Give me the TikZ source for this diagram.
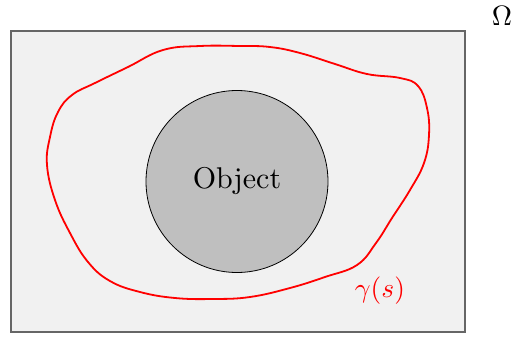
\documentclass[tikz,border=0pt]{standalone}
\usepackage{fontspec}
\begin{document}
\begin{tikzpicture}[x=1pt,y=-1pt,
  domainbox/.style={draw=black!60, line width=1.2pt, fill=black!5.5},
  objcircle/.style={circle, draw=black, line width=0.8pt, fill=black!25, minimum size=182pt, inner sep=0pt},
  contour/.style={draw=red, line width=1.8pt},
  biglabel/.style={inner sep=0pt}]
\useasboundingbox (0,0) rectangle (512,338);
\path[domainbox] (11,31) rectangle (465,332);
\node[objcircle] (obj) at (237,181.5) {};
\node[biglabel, scale=3.0] (objtext) at (237,181) {Object};
\draw[contour] plot[smooth cycle, tension=0.7] coordinates {
(58,112) (72,95) (95,83) (128,67) (163,50) (200,46) (240,46) (270,47) (300,53) (335,64) (367,74) (400,78) (418,86) (427,108) (429,135) (424,163) (410,190) (392,218) (376,243) (357,265) (325,277) (290,288) (250,297) (213,299) (175,298) (140,292) (110,281) (88,262) (70,233) (55,200) (47,165) (50,137)};
\node[biglabel, scale=2.8] (omega) at (502,16) {$\Omega$};
\node[biglabel, text=red, scale=2.75] (gamma) at (380,291) {$\gamma(s)$};
\end{tikzpicture}
\end{document}
